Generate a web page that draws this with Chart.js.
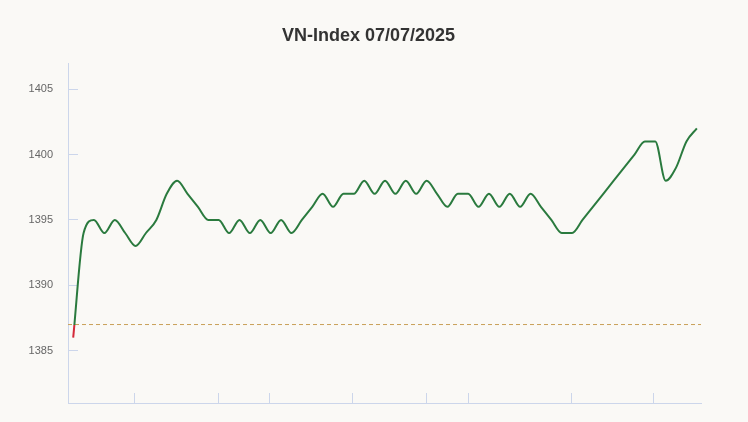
<!DOCTYPE html>
<html>
<head>
<meta charset="utf-8">
<title>VN-Index 07/07/2025</title>
<script src="https://cdn.jsdelivr.net/npm/chart.js@4/dist/chart.umd.min.js"></script>
<style>
  html, body { margin: 0; padding: 0; background: #faf9f6; }
  #wrap { width: 748px; height: 422px; }
</style>
</head>
<body>
<div id="wrap"><canvas id="chart"></canvas></div>
<script>
// Intraday index values, one per step
let values = [
  1386, 1394, 1395, 1394, 1395, 1394, 1393, 1394, 1395, 1397,
  1398, 1397, 1396, 1395, 1395, 1394, 1395, 1394, 1395, 1394,
  1395, 1394, 1395, 1396, 1397, 1396, 1397, 1397, 1398, 1397,
  1398, 1397, 1398, 1397, 1398, 1397, 1396, 1397, 1397, 1396,
  1397, 1396, 1397, 1396, 1397, 1396, 1395, 1394, 1394, 1395,
  1396, 1397, 1398, 1399, 1400, 1401, 1401, 1398, 1399, 1401,
  1402
];

// Previous close (reference line)
let refValue = 1387;

// Y axis
let yMin = 1381, yMax = 1407;
let yTicks = [1385, 1390, 1395, 1400, 1405];

// X axis (step index), tick marks without labels
let xMin = -0.5, xMax = 60.4;
let xTicks = [5.9, 13.95, 18.9, 26.9, 33.95, 38, 47.9, 55.85];

let green = "#2a7a3e";
let red = "#d42a3a";
let axisColor = "#ccd6eb";

function lineColor(c) {
  let chart = c.chart;
  let area = chart.chartArea;
  if (!area) return green;
  let yRef = chart.scales.y.getPixelForValue(refValue);
  let g = chart.ctx.createLinearGradient(0, area.bottom, 0, area.top);
  let stop = (area.bottom - yRef) / (area.bottom - area.top);
  stop = Math.min(Math.max(stop, 0), 1);
  g.addColorStop(0, red);
  g.addColorStop(stop, red);
  g.addColorStop(stop, green);
  g.addColorStop(1, green);
  return g;
}

let ctx = document.getElementById("chart").getContext("2d");

let chart = new Chart(ctx, {
  type: "line",
  data: {
    datasets: [
      {
        data: values.map((v, i) => ({ x: i, y: v })),
        borderColor: lineColor,
        borderWidth: 2,
        pointRadius: 0,
        cubicInterpolationMode: "monotone",
        fill: false,
        order: 0
      },
      {
        data: [{ x: xMin, y: refValue }, { x: xMax, y: refValue }],
        borderColor: "#c9a058",
        borderWidth: 1,
        borderDash: [4, 3],
        pointRadius: 0,
        fill: false,
        order: 1
      }
    ]
  },
  options: {
    responsive: true,
    maintainAspectRatio: false,
    animation: false,
    layout: { padding: { left: 0, right: 11, top: 0, bottom: 19 } },
    plugins: {
      legend: { display: false },
      tooltip: { enabled: false },
      title: {
        display: true,
        text: "VN-Index 07/07/2025",
        color: "#333333",
        font: { family: "'Liberation Sans', Arial, sans-serif", size: 18, weight: "bold", lineHeight: 1.2 },
        padding: { top: 25, bottom: 16.4 }
      }
    },
    scales: {
      x: {
        type: "linear",
        min: xMin,
        max: xMax,
        afterBuildTicks: s => { s.ticks = xTicks.map(v => ({ value: v })); },
        afterFit: s => { s.height = 0; },
        ticks: { display: false },
        grid: { drawOnChartArea: false, drawTicks: true, tickLength: -10, color: axisColor, lineWidth: 1 },
        border: { display: true, color: axisColor, width: 1 }
      },
      y: {
        position: "left",
        min: yMin,
        max: yMax,
        afterBuildTicks: s => { s.ticks = yTicks.map(v => ({ value: v })); },
        afterFit: s => {
          s.width = 68;
          s.paddingTop = 0;
          s.paddingBottom = 0;
        },
        ticks: {
          color: "#666666",
          padding: 25,
          callback: v => String(v),
          font: { family: "'Liberation Sans', Arial, sans-serif", size: 11 }
        },
        grid: { drawOnChartArea: false, drawTicks: true, tickLength: -10, color: axisColor, lineWidth: 1 },
        border: { display: true, color: axisColor, width: 1 }
      },
      y2: {
        position: "right",
        display: true,
        afterFit: s => { s.width = 36; },
        ticks: { display: false },
        grid: { display: false },
        border: { display: false }
      }
    }
  }
});
</script>
</body>
</html>
